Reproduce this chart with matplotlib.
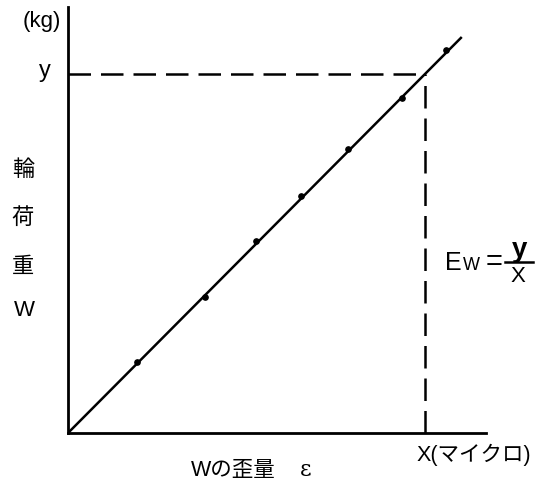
import numpy as np
import matplotlib.pyplot as plt
import matplotlib.lines as mlines

plt.rcParams['font.family'] = ['Liberation Sans', 'Noto Sans CJK JP', 'DejaVu Sans']

# measured strain (relative to X) vs wheel load (relative to y)
strain = [0.192, 0.384, 0.527, 0.653, 0.784, 0.936, 1.060]
load = [0.198, 0.379, 0.535, 0.660, 0.790, 0.932, 1.066]
fit_end = 1.103  # fitted line extends a little past the (X, y) point
X_ref, y_ref = 1.0, 1.0

W, H = 539, 488
fig = plt.figure(figsize=(W / 100, H / 100), dpi=100)
ax = fig.add_axes([68 / W, (H - 433) / H, (486 - 68) / W, (433 - 7) / H])
ax.set_xlim(0, (486 - 68) / 357)
ax.set_ylim(0, (433 - 7) / 359)

for s in ["top", "right"]:
    ax.spines[s].set_visible(False)
for s in ["left", "bottom"]:
    ax.spines[s].set_linewidth(2.0)
ax.set_xticks([])
ax.set_yticks([])

# fitted line through origin
ax.plot([0, fit_end], [0, fit_end], color="black", lw=1.8, solid_capstyle="butt")
ax.plot(strain, load, "o", color="black", ms=3.8)

# dashed guides to (X, y)
ax.plot([0, X_ref], [y_ref, y_ref], color="black", lw=1.8, dashes=(9, 4))
ax.plot([X_ref, X_ref], [0, y_ref], color="black", lw=1.8, dashes=(9, 4))


def px(x, y):
    return x / W, 1 - y / H


fs = 16
fig.text(*px(42, 22), "(kg)", fontsize=fs, ha="center", va="center")
fig.text(*px(45, 71), "y", fontsize=fs + 1, ha="center", va="center")
for label, yy in zip(["輪", "荷", "重"], [170, 218, 267]):
    fig.text(*px(23, yy), label, fontsize=fs, ha="center", va="center")
fig.text(*px(24, 311), "W", fontsize=fs, ha="center", va="center")

fig.text(*px(417, 455), "X(マイクロ)", fontsize=fs - 0.5, ha="left", va="center")
fig.text(*px(233, 470), "Wの歪量", fontsize=fs - 0.5, ha="center", va="center")
fig.text(*px(306, 470), "ε", fontsize=fs, ha="center", va="center",
         family="DejaVu Serif")

# E_W = y / X
fig.text(*px(445, 270), "E", fontsize=fs + 2, ha="left", va="baseline")
fig.text(*px(463, 270), "W", fontsize=fs - 3, ha="left", va="baseline")
fig.text(*px(494, 262), "=", fontsize=fs + 5, ha="center", va="center")
fig.text(*px(520, 257), "y", fontsize=fs + 4, ha="center", va="baseline",
         fontweight="bold")
fig.text(*px(518, 276), "X", fontsize=fs, ha="center", va="center")
fig.add_artist(mlines.Line2D([505 / W, 533 / W], [1 - 262 / H, 1 - 262 / H],
                             color="black", lw=1.8, transform=fig.transFigure))

fig.savefig("out.png", dpi=100)
